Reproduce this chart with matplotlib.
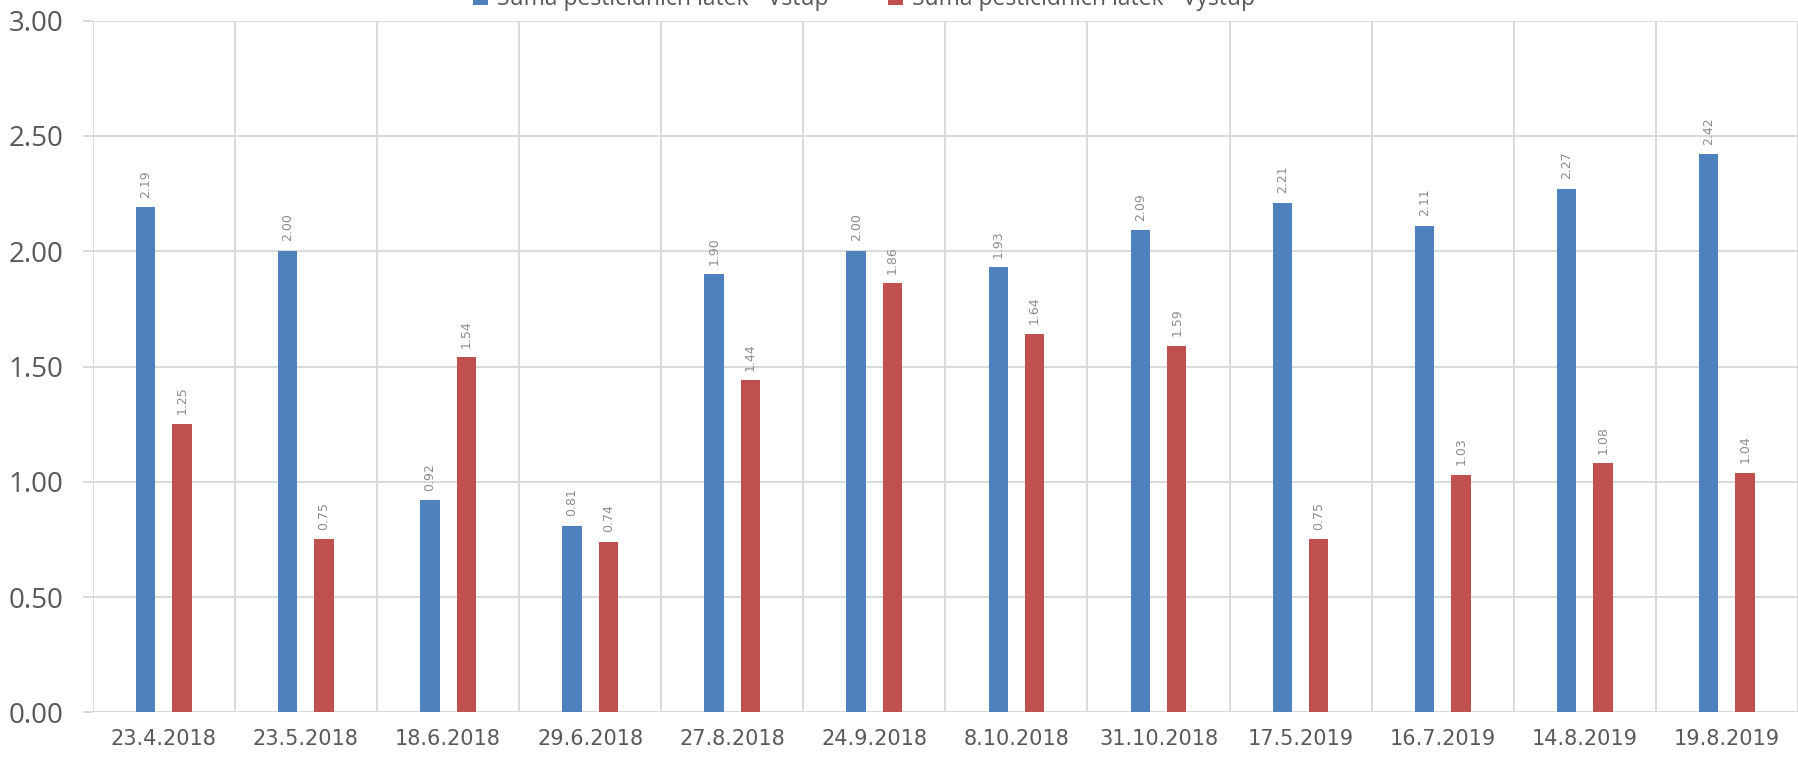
import matplotlib.pyplot as plt
import numpy as np
from matplotlib.ticker import FixedLocator, FormatStrFormatter

dates = ['23.4.2018', '23.5.2018', '18.6.2018', '29.6.2018', '27.8.2018', '24.9.2018',
         '8.10.2018', '31.10.2018', '17.5.2019', '16.7.2019', '14.8.2019', '19.8.2019']
vstup = [2.19, 2.00, 0.92, 0.81, 1.90, 2.00, 1.93, 2.09, 2.21, 2.11, 2.27, 2.42]
vystup = [1.25, 0.75, 1.54, 0.74, 1.44, 1.86, 1.64, 1.59, 0.75, 1.03, 1.08, 1.04]
series_names = ['Suma pesticidních látek - Vstup', 'Suma pesticidních látek - Výstup']

BLUE = '#4F81BD'
RED = '#C0504D'
GRID = '#D9D9D9'
TEXT = '#595959'


def main():
    fig = plt.figure(figsize=(17.98, 7.57), dpi=100)
    ax = fig.add_axes([0.0516, 0.0589, 0.9484, 0.9139])

    x = np.arange(len(dates))
    w = 0.136
    off = 0.128
    b1 = ax.bar(x - off, vstup, w, color=BLUE, label=series_names[0])
    b2 = ax.bar(x + off, vystup, w, color=RED, label=series_names[1])

    # hodnoty nad sloupci, otočené svisle
    for bars in (b1, b2):
        for rect in bars:
            h = rect.get_height()
            ax.annotate('{:.2f}'.format(h),
                        xy=(rect.get_x() + rect.get_width() / 2, h),
                        xytext=(0, 7), textcoords='offset points',
                        rotation=90, ha='center', va='bottom',
                        fontsize=9, color='#8C8C8C')

    ax.set_xlim(-0.5, len(dates) - 0.5)
    ax.set_ylim(0, 3.0)
    ax.set_yticks(np.arange(0, 3.01, 0.5))
    ax.yaxis.set_major_formatter(FormatStrFormatter('%.2f'))
    ax.set_xticks(x)
    ax.set_xticklabels(dates)
    ax.xaxis.set_minor_locator(FixedLocator(np.arange(-0.5, len(dates), 1.0)))

    ax.set_axisbelow(True)
    ax.grid(axis='y', which='major', color=GRID, linewidth=1.4)
    ax.grid(axis='x', which='minor', color=GRID, linewidth=1.4)
    ax.grid(axis='x', which='major', visible=False)
    for s in ax.spines.values():
        s.set_visible(False)

    ax.tick_params(axis='y', which='major', length=7, width=1.4, color=GRID,
                   pad=14, labelsize=20, labelcolor=TEXT)
    ax.tick_params(axis='x', which='both', length=0, pad=12,
                   labelsize=15, labelcolor=TEXT)
    for lab in ax.get_yticklabels():
        lab.set_fontfamily('Open Sans')
    for lab in ax.get_xticklabels():
        lab.set_fontfamily('DejaVu Sans')

    # legenda nahoře, částečně za okrajem obrázku
    fig.legend(handles=[b1, b2], loc='lower center', ncol=2,
               bbox_to_anchor=(864 / 1798, 0.9700), frameon=False,
               borderpad=0, handlelength=0.65, handleheight=0.65,
               handletextpad=0.4, columnspacing=2.6,
               prop={'family': 'Open Sans', 'size': 16.5}, labelcolor=TEXT)

    fig.savefig('out.png', dpi=100)


if __name__ == '__main__':
    main()
